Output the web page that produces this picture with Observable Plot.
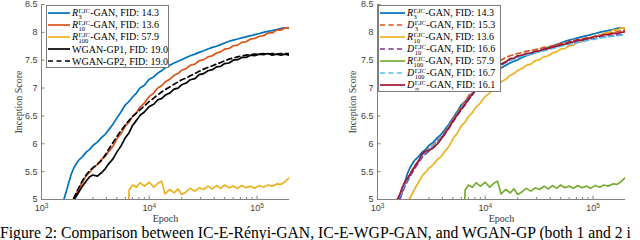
<!DOCTYPE html>
<html><head><meta charset="utf-8">
<script src="https://cdn.jsdelivr.net/npm/d3@7"></script>
<script src="https://cdn.jsdelivr.net/npm/@observablehq/plot@0.6"></script>
<style>
html,body{margin:0;padding:0;background:#fff;overflow:hidden}
#fig{position:relative;width:640px;height:240px;overflow:hidden;background:#fff}
.panel{position:absolute;top:0}
.legend{position:absolute;background:#fff;border:1px solid #7a7a7a;padding:1px 0 0 1px;font-family:"Liberation Serif",serif;font-size:10px;color:#000;box-sizing:border-box}
.row{display:flex;align-items:center;height:12px;white-space:nowrap}
.row svg{flex:none;margin-right:2px}
.m{font-style:italic}
.ss{display:inline-flex;flex-direction:column;font-size:6.5px;line-height:5.5px;vertical-align:middle;margin:0 0.5px}
#caption{position:absolute;left:0px;top:226px;line-height:14px;font-family:"Liberation Serif",serif;font-size:15.7px;white-space:nowrap;color:#000}
</style></head>
<body><div id="fig"><div id="caption">Figure 2: Comparison between IC-E-Rényi-GAN, IC-E-WGP-GAN, and WGAN-GP (both 1 and 2 i</div></div>
<script>
// ---- data ----
const epochs = [1000,1100,1200,1300,1400,1500,1600,1700,1800,1900,2000,2200,2400,2600,2800,3000,3300,3600,3900,4200,4600,5000,5500,6000,6500,7000,7600,8200,9000,10000,11000,12000,13000,14000,15500,17000,18500,20000,22000,24000,26500,29000,32000,35000,38500,42000,46000,50000,55000,60000,66000,72000,79000,87000,95000,105000,115000,126000,138000,152000,166000,182000,198000];
const xTicks = [1000, 10000, 100000];
const xMinorTicks = [2000,3000,4000,5000,6000,7000,8000,9000,20000,30000,40000,50000,60000,70000,80000,90000];
const yTicks = [5, 5.5, 6, 6.5, 7, 7.5, 8, 8.5];

const scoresR3 = [4.20,4.40,4.55,4.70,4.82,4.90,4.98,5.15,5.32,5.47,5.57,5.70,5.77,5.85,5.90,5.97,6.03,6.11,6.17,6.25,6.35,6.46,6.58,6.70,6.76,6.84,6.91,7.00,7.05,7.16,7.20,7.27,7.31,7.36,7.41,7.45,7.48,7.51,7.55,7.58,7.61,7.64,7.67,7.70,7.73,7.75,7.78,7.81,7.84,7.86,7.88,7.90,7.92,7.94,7.96,7.98,8.00,8.02,8.03,8.05,8.07,8.08,8.08];
const scoresR10 = [4.00,4.15,4.30,4.45,4.58,4.70,4.78,4.85,4.90,4.96,5.02,5.18,5.31,5.43,5.49,5.56,5.63,5.72,5.77,5.86,5.95,6.09,6.19,6.32,6.39,6.49,6.56,6.66,6.73,6.85,6.91,7.00,7.04,7.11,7.16,7.23,7.26,7.32,7.35,7.41,7.43,7.49,7.51,7.56,7.58,7.63,7.65,7.70,7.71,7.76,7.77,7.82,7.83,7.88,7.89,7.93,7.94,7.99,7.99,8.04,8.04,8.08,8.08];
const scoresR100 = [null,null,null,null,null,null,null,null,null,null,null,null,null,null,null,null,null,null,null,null,null,null,null,3.0,5.17,5.26,5.22,5.30,5.24,5.31,5.22,5.29,5.33,5.10,5.18,5.12,5.19,5.09,5.14,5.20,5.15,5.21,5.18,5.24,5.19,5.25,5.20,5.26,5.21,5.24,5.20,5.25,5.21,5.24,5.20,5.25,5.22,5.26,5.24,5.28,5.27,5.32,5.39];
const scoresGP1 = [3.90,4.05,4.20,4.35,4.48,4.60,4.70,4.78,4.85,4.92,4.99,5.12,5.24,5.33,5.41,5.44,5.42,5.48,5.55,5.64,5.73,5.85,5.97,6.11,6.20,6.33,6.42,6.51,6.57,6.67,6.71,6.79,6.81,6.87,6.91,6.98,7.00,7.06,7.09,7.15,7.17,7.24,7.26,7.31,7.33,7.38,7.39,7.44,7.45,7.50,7.51,7.55,7.55,7.59,7.58,7.61,7.60,7.62,7.59,7.61,7.59,7.61,7.59];
const scoresGP2 = [3.95,4.10,4.25,4.40,4.52,4.63,4.73,4.81,4.88,4.95,5.03,5.20,5.34,5.44,5.52,5.57,5.63,5.70,5.80,5.90,6.02,6.13,6.24,6.34,6.42,6.49,6.55,6.61,6.68,6.76,6.82,6.88,6.93,6.97,7.02,7.07,7.11,7.15,7.18,7.22,7.26,7.30,7.34,7.37,7.40,7.43,7.46,7.49,7.52,7.54,7.56,7.58,7.59,7.60,7.61,7.61,7.62,7.61,7.62,7.61,7.62,7.62,7.62];
const scoresD3 = [4.25,4.45,4.60,4.74,4.85,4.94,5.04,5.18,5.29,5.37,5.46,5.60,5.70,5.80,5.86,5.92,5.98,6.06,6.12,6.22,6.32,6.44,6.56,6.67,6.76,6.86,6.95,7.05,7.13,7.24,7.31,7.39,7.44,7.50,7.55,7.58,7.60,7.62,7.64,7.66,7.67,7.69,7.71,7.73,7.74,7.76,7.78,7.80,7.81,7.83,7.85,7.87,7.88,7.90,7.91,7.93,7.95,7.97,7.98,8.00,8.01,8.03,8.04];
const scoresD10 = [4.20,4.40,4.56,4.70,4.81,4.90,5.00,5.13,5.24,5.33,5.41,5.55,5.66,5.76,5.82,5.87,5.94,6.01,6.08,6.17,6.28,6.39,6.51,6.61,6.70,6.79,6.88,6.97,7.05,7.15,7.22,7.30,7.35,7.41,7.46,7.50,7.53,7.56,7.58,7.60,7.62,7.64,7.66,7.68,7.70,7.72,7.74,7.76,7.78,7.80,7.81,7.83,7.85,7.86,7.88,7.89,7.91,7.92,7.93,7.94,7.95,7.96,7.97];
const scoresD100 = [4.22,4.42,4.58,4.72,4.83,4.93,5.04,5.17,5.28,5.36,5.44,5.58,5.69,5.79,5.85,5.90,5.96,6.04,6.11,6.20,6.31,6.42,6.54,6.64,6.73,6.82,6.91,7.00,7.08,7.18,7.25,7.32,7.37,7.42,7.46,7.50,7.52,7.55,7.57,7.59,7.61,7.63,7.65,7.67,7.69,7.71,7.73,7.75,7.77,7.79,7.80,7.82,7.84,7.85,7.87,7.88,7.90,7.91,7.92,7.93,7.94,7.95,7.96];
const scoresDinf = [4.30,4.50,4.65,4.78,4.88,4.97,5.08,5.22,5.32,5.38,5.45,5.58,5.69,5.82,5.87,5.88,5.93,6.00,6.09,6.18,6.29,6.41,6.52,6.63,6.71,6.81,6.89,6.99,7.06,7.17,7.23,7.32,7.36,7.43,7.47,7.53,7.54,7.58,7.59,7.62,7.63,7.66,7.67,7.70,7.71,7.74,7.75,7.78,7.79,7.82,7.83,7.86,7.86,7.89,7.90,7.93,7.93,7.96,7.96,7.98,7.98,8.00,8.01];

const leftSeries = [
  {sym: "R", sub: "3", fid: "14.3", values: scoresR3, color: "#0072BD", dash: null},
  {sym: "R", sub: "10", fid: "13.6", values: scoresR10, color: "#D95319", dash: null},
  {sym: "R", sub: "100", fid: "57.9", values: scoresR100, color: "#EDB120", dash: null},
  {name: "WGAN-GP1", fid: "19.0", values: scoresGP1, color: "#000000", dash: null},
  {name: "WGAN-GP2", fid: "19.0", values: scoresGP2, color: "#000000", dash: "5,3.5"}
];
const rightSeries = [
  {sym: "R", sub: "3", fid: "14.3", values: scoresR3, color: "#0072BD", dash: null},
  {sym: "D", sub: "3", fid: "15.3", values: scoresD3, color: "#D95319", dash: "5,3.5"},
  {sym: "R", sub: "10", fid: "13.6", values: scoresR10, color: "#EDB120", dash: null},
  {sym: "D", sub: "10", fid: "16.6", values: scoresD10, color: "#7E2F8E", dash: "5,3.5"},
  {sym: "R", sub: "100", fid: "57.9", values: scoresR100, color: "#77AC30", dash: null},
  {sym: "D", sub: "100", fid: "16.7", values: scoresD100, color: "#4DBEEE", dash: "5,3.5"},
  {sym: "D", sub: "∞", fid: "16.1", values: scoresDinf, color: "#A2142F", dash: null}
];

// ---- drawing ----
const axisColor = "#808080";
const toRows = vals => epochs.map((x, i) => ({x, y: vals[i]})).filter(d => d.y != null);

function makePanel(series, ml, mr, ylabDx) {
  const svg = Plot.plot({
    width: 320, height: 226,
    marginLeft: ml, marginRight: mr, marginTop: 4, marginBottom: 27,
    style: {fontFamily: "'Liberation Sans', Arial, sans-serif", fontSize: "9px", color: "#404040", background: "transparent"},
    x: {type: "log", domain: [1000, 200000]},
    y: {domain: [5, 8.5]},
    marks: [
      Plot.ruleY([5], {stroke: axisColor}),
      Plot.ruleX([1000], {stroke: axisColor}),
      Plot.ruleX(xTicks, {x: d => d, y1: 5, y2: 5, insetTop: -3.5, stroke: axisColor}),
      Plot.ruleX(xMinorTicks, {x: d => d, y1: 5, y2: 5, insetTop: -2, stroke: axisColor}),
      Plot.ruleY(yTicks, {y: d => d, x1: 1000, x2: 1000, insetRight: -3.5, stroke: axisColor}),
      Plot.axisY({ticks: yTicks, tickSize: 0, tickPadding: 4, tickFormat: d => String(d), label: null}),
      Plot.axisX({ticks: xTicks, tickSize: 0, tickPadding: 5, tickFormat: d => "10^" + Math.round(Math.log10(d)), label: null}),
      Plot.text(["Epoch"], {frameAnchor: "bottom", lineAnchor: "middle", dy: 19, fontFamily: "'Liberation Serif', serif", fontSize: 10, fill: "#333"}),
      Plot.text(["Inception Score"], {frameAnchor: "left", textAnchor: "middle", lineAnchor: "middle", rotate: -90, dx: ylabDx, fontFamily: "'Liberation Serif', serif", fontSize: 10, fill: "#333"}),
      ...series.map(s => Plot.line(toRows(s.values), {x: "x", y: "y", stroke: s.color, strokeWidth: 1.7, strokeDasharray: s.dash, clip: true}))
    ]
  });
  // superscript exponents on the log axis labels
  svg.querySelectorAll('[aria-label="x-axis tick label"] text').forEach(t => {
    const s = t.textContent;
    if (!s.includes("^")) return;
    const [b, e] = s.split("^");
    t.textContent = b;
    const ts = document.createElementNS("http://www.w3.org/2000/svg", "tspan");
    ts.setAttribute("dy", "-3");
    ts.setAttribute("font-size", "6.5");
    ts.textContent = e;
    t.appendChild(ts);
  });
  return svg;
}

function labelHTML(s) {
  if (s.sym) return `<span class="m">${s.sym}</span><span class="ss"><span>Γ,<i>IC</i></span><span>${s.sub}</span></span>-GAN, FID: ${s.fid}`;
  return `${s.name}, FID: ${s.fid}`;
}
function makeLegend(series, left, top, width, height, swW) {
  const div = document.createElement("div");
  div.className = "legend";
  Object.assign(div.style, {left: left + "px", top: top + "px", width: width + "px", height: height + "px"});
  div.innerHTML = series.map(s =>
    `<div class="row"><svg width="${swW}" height="12"><line x1="0" x2="${swW}" y1="6" y2="6" stroke="${s.color}" stroke-width="1.7" ${s.dash ? `stroke-dasharray="${s.dash}"` : ""}/></svg><span>${labelHTML(s)}</span></div>`
  ).join("");
  return div;
}

const fig = document.getElementById("fig");
const p1 = document.createElement("div"); p1.className = "panel"; p1.style.left = "0px";
p1.appendChild(makePanel(leftSeries, 41, 31, -23));
const p2 = document.createElement("div"); p2.className = "panel"; p2.style.left = "320px";
p2.appendChild(makePanel(rightSeries, 57, 15, -25));
fig.appendChild(p1); fig.appendChild(p2);
fig.appendChild(makeLegend(leftSeries, 46, 5, 123, 63, 22));
fig.appendChild(makeLegend(rightSeries, 378, 5, 123, 87, 25));
</script></body></html>
